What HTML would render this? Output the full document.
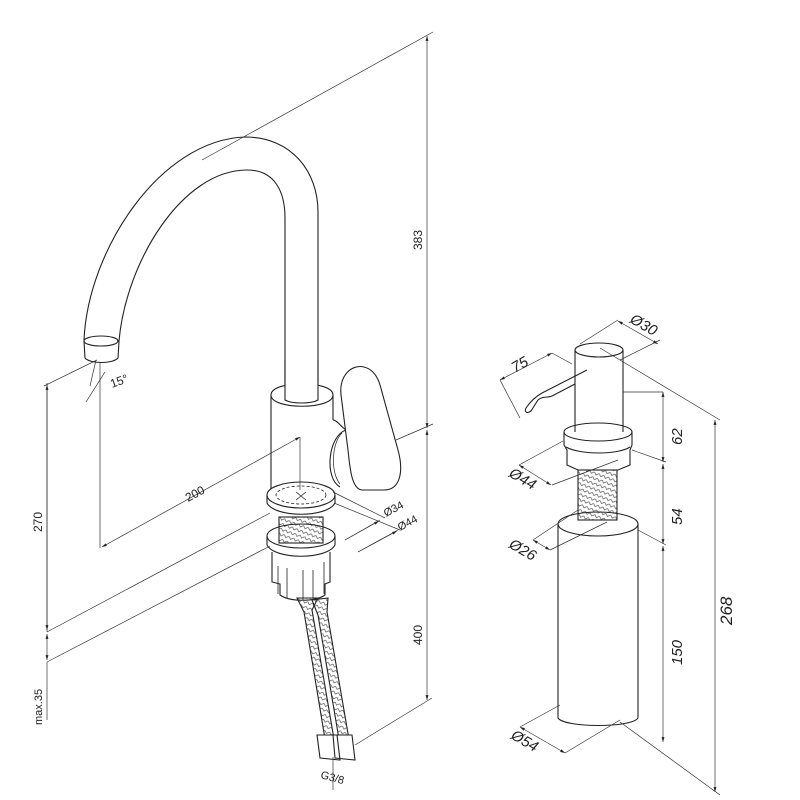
<!DOCTYPE html>
<html><head><meta charset="utf-8"><style>html,body{margin:0;padding:0;background:#fff}svg{display:block}</style></head>
<body>
<svg width="800" height="800" viewBox="0 0 800 800" xmlns="http://www.w3.org/2000/svg" font-family="Liberation Sans, sans-serif">
<defs>
<marker id="a" viewBox="0 0 10 10" refX="10" refY="5" markerWidth="7" markerHeight="7" orient="auto-start-reverse"><path d="M0,2 L10,5 L0,8 z" fill="#222"/></marker>
<pattern id="h" width="5" height="5" patternUnits="userSpaceOnUse" patternTransform="rotate(20)"><path d="M0,0 L2.5,2.5 L5,0" fill="none" stroke="#555" stroke-width="0.7"/></pattern>
</defs>
<g fill="none" stroke="#222" stroke-width="1.1">
<!-- spout -->
<path d="M84,340 C88,250 160,140 245,137 C292,137 318,172 318,212 L318,400"/>
<path d="M119,341 C126,262 182,170 247,170 C275,170 285,192 285,218 L285,398"/>
<ellipse cx="101" cy="341" rx="17" ry="5"/>
<path d="M84,341 L85,358 C90,364 113,364 118,358 L119,341"/>
<!-- body -->
<path d="M271,395 L271,492 M333,395 L333,420"/>
<path d="M271,395 C271,380 333,380 333,395 C333,410 271,410 271,395 Z" fill="#fff"/>
<path d="M285,382 L285,401 C292,405 311,405 318,401 L318,382" fill="#fff" stroke="none"/>
<path d="M285,360 L285,400 C292,404 311,404 318,400 L318,360"/>
<!-- handle connector -->
<path d="M333,420 C337,420 340,426 346,430"/>
<path d="M346,430 C328,436 324,478 340,487"/>
<path d="M342,433 C332,442 330,472 340,484" stroke-width="0.7"/>
<!-- handle -->
<path d="M341,395 C339,375 352,364 364,367 C372,369 377,375 380,385 L398,450 C404,472 400,490 384,490 L362,490 C352,489 350,470 348,450 Z" fill="#fff"/>
<!-- flange -->
<ellipse cx="301" cy="495" rx="34" ry="13" fill="#fff"/>
<path d="M267,495 L267,503 C275,518 327,518 335,503 L335,495"/>
<ellipse cx="301" cy="495" rx="25" ry="9" stroke-dasharray="3,2" stroke-width="0.8"/>
<path d="M296,492 L306,500 M306,492 L296,500" stroke-width="0.8"/>
<!-- thread -->
<rect x="279" y="517" width="44" height="26" fill="url(#h)" stroke="#222"/>
<ellipse cx="301" cy="536" rx="34" ry="12"/>
<path d="M267,536 L267,545 C275,560 327,560 335,545 L335,536"/>
<!-- nut -->
<path d="M272,552 L272,582 L280,584 L280,595 C290,602 315,602 325,595 L325,584 L330,582 L330,552"/>
<path d="M278,566 L278,594 M287,568 L287,598 M303,570 L303,600 M313,570 L313,598 M324,562 L324,594" stroke-width="0.8"/>
<!-- hoses -->
<path d="M297,598 L304,612 L326,745 L335,745 L312,610 L318,598 Z" fill="url(#h)"/>
<path d="M312,600 L318,615 L340,745 L350,745 L327,612 L328,598 Z" fill="url(#h)"/>
<path d="M317,735 L320,758 L340,760 L337,735 Z M333,735 L335,758 L355,760 L352,735 Z" fill="#fff"/>
</g>
<!-- faucet dims -->
<g fill="none" stroke="#333" stroke-width="0.7">
<path d="M433,32 L202,160"/>
<path d="M427,36 L427,428" marker-start="url(#a)" marker-end="url(#a)"/>
<path d="M427,430 L427,700" marker-start="url(#a)" marker-end="url(#a)"/>
<path d="M396,440 L433,424 M432,698 L355,745"/>
<path d="M100,362 L100,548 M47,383 L47,632" />
<path d="M47,385 L47,630" marker-start="url(#a)" marker-end="url(#a)"/>
<path d="M44,386 L97,360 M96,360 L90,386 M86,402 L105,372"/>
<path d="M102,547 L300,437" marker-start="url(#a)" marker-end="url(#a)"/>
<path d="M300,437 L300,490"/>
<path d="M47,632 L270,513 M47,662 L270,546"/>
<path d="M47,634 L47,660" marker-start="url(#a)" marker-end="url(#a)"/>
<path d="M47,662 L47,720"/>
<path d="M333,492 L385,518 M334,503 L400,530 M345,540 L380,520 M358,552 L398,530" />
<path d="M345,540 L379,521" marker-end="url(#a)"/>
<path d="M358,552 L397,531" marker-end="url(#a)"/>
<path d="M333,757 L333,790"/>
</g>
<g fill="#222" font-size="12">
<text transform="translate(422,250) rotate(-90)">383</text>
<text transform="translate(422,645) rotate(-90)">400</text>
<text transform="translate(42,532) rotate(-90)">270</text>
<text transform="translate(42,725) rotate(-90)" font-size="11">max.35</text>
<text transform="translate(188,502) rotate(-28)">200</text>
<text transform="translate(112,388) rotate(-20)">15°</text>
<text transform="translate(386,517) rotate(-28)" font-size="11">Ø34</text>
<text transform="translate(400,531) rotate(-28)" font-size="11">Ø44</text>
<text transform="translate(320,778) rotate(15)" font-size="11">G3/8</text>
</g>
<!-- dispenser -->
<g fill="none" stroke="#222" stroke-width="1.1">
<ellipse cx="599" cy="350" rx="24" ry="7"/>
<path d="M575,350 L575,432 M623,350 L623,432"/>
<path d="M587,370 L542,393 C535,397 530,402 526,408 C524,412 527,414 531,411 L538,400 C542,396 548,398 552,396 L575,384"/>
<ellipse cx="598" cy="432" rx="34" ry="9"/>
<path d="M564,432 L564,445 L567,450 L567,465 L578,470 L618,470 L630,465 L630,450 L632,445 L632,432"/>
<path d="M566,447 C580,455 618,455 630,447"/>
<rect x="578" y="470" width="39" height="50" fill="url(#h)"/>
<ellipse cx="598" cy="524" rx="40" ry="12"/>
<path d="M558,524 L558,718 C565,728 632,728 638,718 L638,524"/>
</g>
<g fill="none" stroke="#333" stroke-width="0.7">
<path d="M600,348 L720,420 M580,344 L618,320 M620,360 L660,340"/>
<path d="M618,321 L658,344" marker-start="url(#a)" marker-end="url(#a)"/>
<path d="M520,418 L500,380 M552,353 L572,364"/>
<path d="M500,380 L552,353" marker-start="url(#a)" marker-end="url(#a)"/>
<path d="M623,392 L663,392 M632,450 L666,462 M638,530 L666,545"/>
<path d="M663,392 L663,462" marker-start="url(#a)" marker-end="url(#a)"/>
<path d="M663,464 L663,544" marker-start="url(#a)" marker-end="url(#a)"/>
<path d="M663,546 L663,742" marker-start="url(#a)" marker-end="url(#a)"/>
<path d="M715,420 L715,792" marker-start="url(#a)" marker-end="url(#a)"/>
<path d="M620,722 L720,795 M563,441 L519,465 M618,460 L552,485"/>
<path d="M519,465 L551,485" marker-start="url(#a)" marker-end="url(#a)"/>
<path d="M578,510 L533,540 M607,522 L550,550"/>
<path d="M533,540 L550,550" marker-start="url(#a)" marker-end="url(#a)"/>
<path d="M560,705 L520,727 M620,720 L565,753"/>
<path d="M520,727 L565,753" marker-start="url(#a)" marker-end="url(#a)"/>
</g>
<g fill="#222" font-size="15" font-style="italic">
<text transform="translate(629,322) rotate(30)">Ø30</text>
<text transform="translate(515,373) rotate(-30)">75</text>
<text transform="translate(682,445) rotate(-90)">62</text>
<text transform="translate(682,525) rotate(-90)">54</text>
<text transform="translate(682,665) rotate(-90)">150</text>
<text transform="translate(732,625) rotate(-90)" font-size="17">268</text>
<text transform="translate(508,476) rotate(30)">Ø44</text>
<text transform="translate(508,547) rotate(30)">Ø26</text>
<text transform="translate(510,738) rotate(30)">Ø54</text>
</g>
</svg>
</body></html>
